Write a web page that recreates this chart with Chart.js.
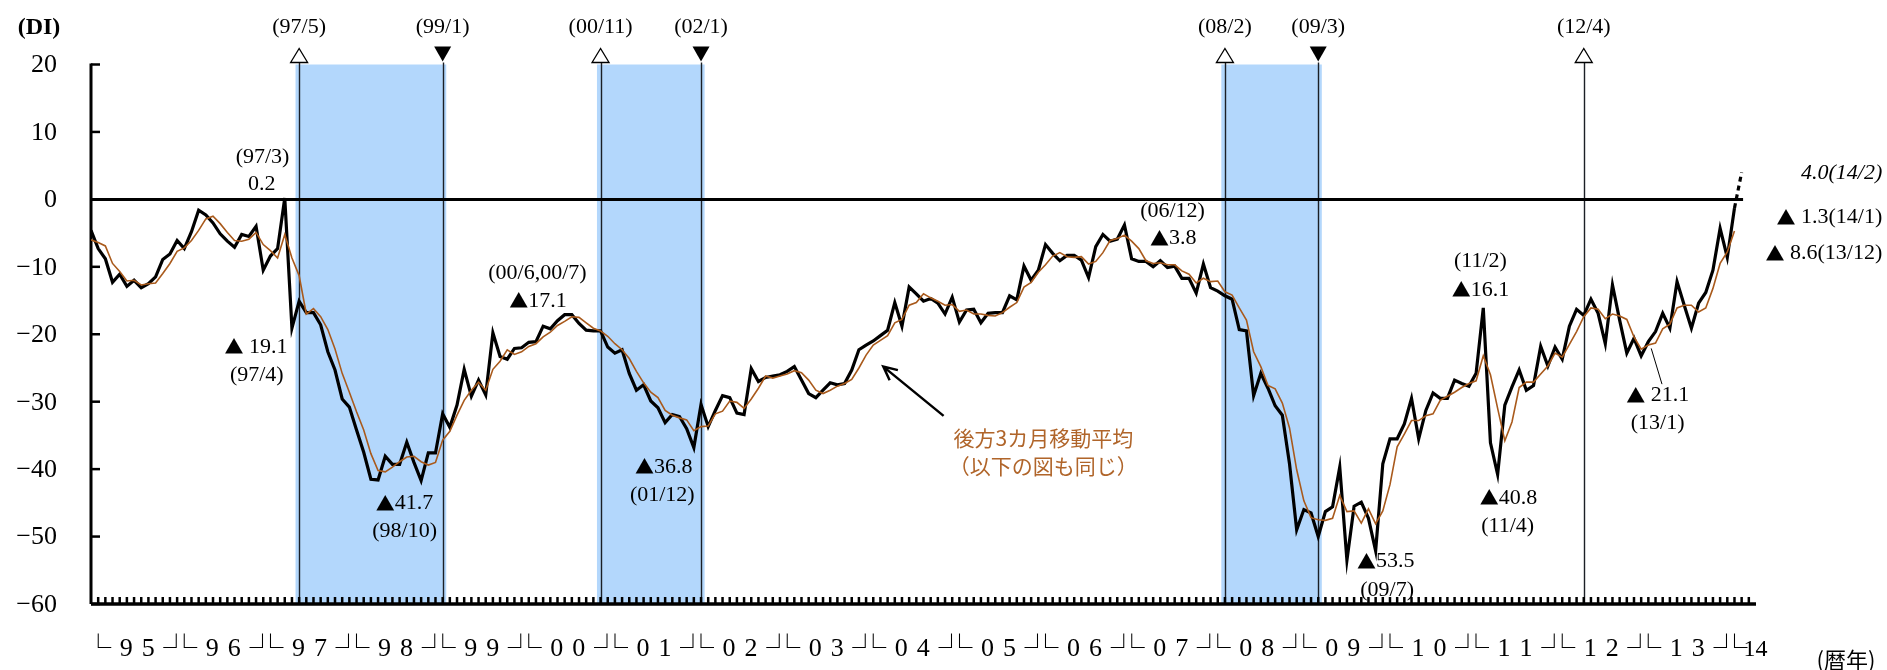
<!DOCTYPE html>
<html lang="ja">
<head>
<meta charset="utf-8">
<title>DI</title>
<script src="https://cdn.jsdelivr.net/npm/chart.js@4.4.1/dist/chart.umd.min.js"></script>
<style>
  html, body { margin: 0; padding: 0; background: #fff; }
  #wrap { width: 1887px; height: 670px; }
</style>
</head>
<body>
<div id="wrap"><canvas id="diChart" width="1887" height="670"></canvas></div>
<script>
// monthly DI, from 94/12 to 14/2 (last month is the dashed segment)
const firstMonth = '94/12';
const diValues = [
  -4.6,
  -7.3, -8.8, -12.3, -11.1, -12.9, -12.0, -13.1, -12.5, -11.5, -8.9, -8.1, -6.1,
  -7.3, -4.8, -1.6, -2.3, -3.5, -5.1, -6.2, -7.1, -5.2, -5.5, -4.0, -10.5,
  -8.4, -7.3, 0.2, -19.1, -15.1, -16.8, -16.8, -18.6, -22.6, -25.3, -29.6, -30.8,
  -34.2, -37.5, -41.5, -41.6, -38.1, -39.3, -39.3, -36.0, -39.0, -41.7, -37.6, -37.6,
  -31.8, -33.8, -30.5, -25.2, -29.2, -26.8, -29.0, -19.8, -23.3, -23.7, -22.1, -22.0,
  -21.2, -21.1, -18.8, -19.2, -18.0, -17.1, -17.1, -18.4, -19.4, -19.5, -19.5, -21.9,
  -22.8, -22.3, -25.8, -28.3, -27.5, -29.9, -30.9, -33.1, -31.9, -32.2, -34.0, -36.8,
  -30.4, -33.7, -31.3, -29.1, -29.4, -31.7, -31.9, -25.1, -27.0, -26.4, -26.2, -26.0,
  -25.5, -24.8, -26.8, -28.8, -29.4, -28.3, -27.2, -27.5, -27.3, -25.3, -22.3, -21.6,
  -21.0, -20.2, -19.4, -15.3, -18.8, -13.0, -14.0, -15.1, -14.7, -15.4, -17.0, -14.5,
  -18.2, -16.4, -16.3, -18.3, -16.9, -16.8, -16.8, -14.3, -14.9, -9.9, -12.0, -10.5,
  -6.7, -8.0, -9.1, -8.3, -8.3, -9.0, -11.6, -7.0, -5.2, -6.2, -5.9, -3.8,
  -8.8, -9.2, -9.2, -10.0, -9.1, -10.1, -9.9, -11.7, -11.7, -13.9, -9.6, -13.1,
  -13.6, -14.3, -14.8, -19.3, -19.5, -29.1, -25.8, -28.0, -30.6, -32.0, -39.2, -49.0,
  -46.0, -46.5, -50.0, -46.3, -45.6, -39.7, -53.5, -45.5, -44.9, -47.3, -52.1, -39.2,
  -35.5, -35.5, -33.3, -29.5, -35.5, -31.3, -28.7, -29.5, -29.5, -26.8, -27.3, -27.7,
  -25.8, -16.1, -36.1, -40.8, -30.5, -27.8, -25.3, -28.3, -27.6, -21.8, -24.7, -21.9,
  -23.7, -18.8, -16.3, -17.2, -14.8, -16.9, -21.4, -12.7, -17.9, -22.8, -20.6, -23.2,
  -21.1, -19.6, -16.9, -19.1, -12.2, -15.7, -19.1, -15.4, -13.8, -10.5, -4.3, -8.6,
  -1.3, 4.0
];

// 後方3カ月移動平均 (94/12 to 14/1)
const maValues = [
  -6.0,
  -6.4, -6.9, -9.5, -10.7, -12.1, -12.0, -12.7, -12.5, -12.4, -11.0, -9.5, -7.7,
  -7.2, -6.1, -4.6, -2.9, -2.5, -3.6, -4.9, -6.1, -6.2, -5.9, -4.9, -6.7,
  -7.6, -8.7, -5.2, -8.7, -11.3, -17.0, -16.2, -17.4, -19.3, -22.2, -25.8, -28.6,
  -31.5, -34.2, -37.7, -40.2, -40.4, -39.7, -38.9, -38.2, -38.1, -38.9, -39.4, -39.0,
  -35.7, -34.4, -32.0, -29.8, -28.3, -27.1, -28.3, -25.2, -24.0, -22.3, -23.0, -22.6,
  -21.8, -21.4, -20.4, -19.7, -18.7, -18.1, -17.4, -17.5, -18.3, -19.1, -19.5, -20.3,
  -21.4, -22.3, -23.6, -25.5, -27.2, -28.6, -29.4, -31.3, -32.0, -32.4, -32.7, -34.3,
  -33.7, -33.6, -31.8, -31.4, -29.9, -30.1, -31.0, -29.6, -28.0, -26.2, -26.5, -26.2,
  -25.9, -25.4, -25.7, -26.8, -28.3, -28.8, -28.3, -27.7, -27.3, -26.7, -25.0, -23.1,
  -21.6, -20.9, -20.2, -18.3, -17.8, -15.7, -15.3, -14.0, -14.6, -15.1, -15.7, -15.6,
  -16.6, -16.4, -17.0, -17.0, -17.2, -17.3, -16.8, -16.0, -15.3, -13.0, -12.3, -10.8,
  -9.7, -8.4, -7.9, -8.5, -8.6, -8.5, -9.6, -9.2, -7.9, -6.1, -5.8, -5.3,
  -6.2, -7.3, -9.1, -9.5, -9.4, -9.7, -9.7, -10.6, -11.1, -12.4, -11.7, -12.2,
  -12.1, -13.7, -14.2, -16.1, -17.9, -22.6, -24.8, -27.6, -28.1, -30.2, -33.9, -40.1,
  -44.7, -47.2, -47.5, -47.6, -47.3, -43.9, -46.3, -46.2, -48.0, -45.9, -48.1, -46.2,
  -42.3, -36.7, -34.8, -32.8, -32.8, -32.1, -31.8, -29.8, -29.2, -28.6, -27.9, -27.3,
  -26.9, -23.2, -26.0, -31.0, -35.8, -33.0, -27.9, -27.1, -27.1, -25.9, -24.7, -22.8,
  -23.4, -21.5, -19.6, -17.4, -16.1, -16.3, -17.7, -17.0, -17.3, -17.8, -20.4, -22.2,
  -21.6, -21.3, -19.2, -18.5, -16.1, -15.7, -15.7, -16.7, -16.1, -13.2, -9.5, -7.8,
  -4.7
];

const yearLabels = ['95', '96', '97', '98', '99', '00', '01', '02', '03', '04',
  '05', '06', '07', '08', '09', '10', '11', '12', '13', '14'];
const yTickValues = [20, 10, 0, -10, -20, -30, -40, -50, -60];

// 景気の山 (△) と谷 (▼)
const peakDates = ['97/5', '00/11', '08/2', '12/4'];
const troughDates = ['99/1', '02/1', '09/3'];

// text notes, x = month index from 95/1, y = DI value
const notes = [
  { text: '(97/3)', x: 22.9, y: 6.2 },
  { text: '0.2', x: 22.8, y: 2.2 },
  { text: '▲ 19.1', x: 22.0, y: -21.9 },
  { text: '(97/4)', x: 22.1, y: -26.1 },
  { text: '▲41.7', x: 42.7, y: -45.1 },
  { text: '(98/10)', x: 42.7, y: -49.2 },
  { text: '(00/6,00/7)', x: 61.2, y: -11.0 },
  { text: '▲17.1', x: 61.3, y: -15.1 },
  { text: '▲36.8', x: 78.8, y: -39.7 },
  { text: '(01/12)', x: 78.6, y: -43.9 },
  { text: '(06/12)', x: 149.7, y: -1.7 },
  { text: '▲3.8', x: 149.8, y: -5.8 },
  { text: '▲53.5', x: 179.4, y: -53.7 },
  { text: '(09/7)', x: 179.6, y: -57.9 },
  { text: '(11/2)', x: 192.6, y: -9.1 },
  { text: '▲16.1', x: 192.6, y: -13.4 },
  { text: '▲40.8', x: 196.5, y: -44.3 },
  { text: '(11/4)', x: 196.4, y: -48.5 },
  { text: '▲ 21.1', x: 217.3, y: -29.1 },
  { text: '(13/1)', x: 217.3, y: -33.2 },
  { text: '4.0(14/2)', x: 248.6, y: 3.9, align: 'right', italic: true },
  { text: '▲ 1.3(14/1)', x: 248.6, y: -2.7, align: 'right' },
  { text: '▲ 8.6(13/12)', x: 248.6, y: -8.0, align: 'right' }
];
const maNotes = [
  { text: '後方3カ月移動平均', x: 131.7, y: -35.4 },
  { text: '（以下の図も同じ）', x: 131.7, y: -39.5 }
];
const arrowLine = { from: [117.8, -32.1], to: [109.4, -24.8] };
const leaderLine = { from: [216.4, -22.1], to: [217.9, -27.4] };

const SERIF = '"Liberation Serif", "DejaVu Serif", serif';
const JP = '"Noto Sans CJK JP", sans-serif';
const MA_COLOR = '#a95a1c';

function monthIndex(s) {
  const [yy, m] = s.split('/').map(Number);
  return ((yy < 50 ? 2000 + yy : 1900 + yy) - 1995) * 12 + (m - 1);
}

const start = monthIndex(firstMonth);
const lastDi = diValues.length - 1;

function fmt(v) {
  return v < 0 ? '\u2212' + Math.abs(v) : String(v);
}

// ▲ is drawn in the CJK font so it comes out as large as in the source
function drawNote(ctx, n, x, y) {
  const serifFont = (n.italic ? 'italic ' : '') + '22px ' + SERIF;
  let mark = '', rest = n.text;
  if (rest.startsWith('▲')) { mark = '▲'; rest = rest.slice(1); }
  ctx.font = '19px ' + JP;
  const w1 = mark ? ctx.measureText(mark).width : 0;
  ctx.font = serifFont;
  const w2 = ctx.measureText(rest).width;
  const total = w1 + w2;
  let left = x - total / 2;
  if (n.align === 'right') left = x - total;
  ctx.textAlign = 'left';
  if (mark) {
    ctx.font = '19px ' + JP;
    ctx.fillText(mark, left, y);
  }
  ctx.font = serifFont;
  ctx.fillText(rest, left + w1, y);
}

// bands, turning point lines, zero line, axes
const backdrop = {
  id: 'backdrop',
  beforeDatasetsDraw(chart) {
    const { ctx, chartArea: a, scales: { x, y } } = chart;
    ctx.save();

    ctx.fillStyle = '#b3d7fc';
    peakDates.forEach((p, k) => {
      if (!troughDates[k]) return;
      const l = x.getPixelForValue(monthIndex(p) - 0.5);
      const r = x.getPixelForValue(monthIndex(troughDates[k]) + 0.5);
      ctx.fillRect(l, a.top, r - l, a.bottom - a.top);
    });

    ctx.strokeStyle = '#1b1f26';
    ctx.lineWidth = 1.4;
    peakDates.concat(troughDates).forEach(d => {
      const px = Math.round(x.getPixelForValue(monthIndex(d))) + 0.5;
      ctx.beginPath();
      ctx.moveTo(px, a.top - 2);
      ctx.lineTo(px, a.bottom);
      ctx.stroke();
    });

    // zero line
    const y0 = y.getPixelForValue(0);
    ctx.strokeStyle = '#000';
    ctx.lineWidth = 3;
    ctx.beginPath();
    ctx.moveTo(a.left, y0);
    ctx.lineTo(x.getPixelForValue(229.2), y0);
    ctx.stroke();

    // y axis with inner ticks
    ctx.lineWidth = 3;
    ctx.beginPath();
    ctx.moveTo(a.left, a.top - 1);
    ctx.lineTo(a.left, a.bottom);
    ctx.stroke();
    ctx.lineWidth = 2.5;
    yTickValues.forEach(v => {
      const py = y.getPixelForValue(v);
      ctx.beginPath();
      ctx.moveTo(a.left, py);
      ctx.lineTo(a.left + 9, py);
      ctx.stroke();
    });

    // x axis with monthly ticks
    ctx.lineWidth = 3.5;
    ctx.beginPath();
    ctx.moveTo(a.left, a.bottom);
    ctx.lineTo(a.right, a.bottom);
    ctx.stroke();
    ctx.lineWidth = 2.5;
    for (let i = 0; i <= 230; i++) {
      const px = x.getPixelForValue(i);
      ctx.beginPath();
      ctx.moveTo(px, a.bottom);
      ctx.lineTo(px, a.bottom - 7);
      ctx.stroke();
    }
    ctx.restore();
  },

  afterDatasetsDraw(chart) {
    const { ctx, chartArea: a, scales: { x, y } } = chart;
    const px = v => x.getPixelForValue(v);
    const py = v => y.getPixelForValue(v);
    ctx.save();
    ctx.fillStyle = '#000';
    ctx.strokeStyle = '#000';

    // y tick labels
    ctx.font = '26px ' + SERIF;
    ctx.textAlign = 'right';
    ctx.textBaseline = 'middle';
    yTickValues.forEach(v => ctx.fillText(fmt(v), a.left - 34, py(v) + 1));

    // unit
    ctx.font = 'bold 24px ' + SERIF;
    ctx.textAlign = 'center';
    ctx.fillText('(DI)', a.left - 52, a.top - 37);

    // year labels
    ctx.textBaseline = 'alphabetic';
    yearLabels.forEach((lab, k) => {
      const left = px(12 * k);
      ctx.font = '26px ' + JP;
      ctx.textAlign = 'center';
      ctx.fillText('└', left, 657);
      if (k < yearLabels.length - 1) {
        ctx.fillText('┘', px(12 * k + 12) - 8, 657);
        ctx.font = '26px ' + SERIF;
        ctx.fillText(lab[0], left + 28, 656);
        ctx.fillText(lab[1], left + 50, 656);
      } else {
        ctx.font = '24px ' + SERIF;
        ctx.textAlign = 'left';
        ctx.fillText(lab, left + 9, 656);
      }
    });
    ctx.font = '22px ' + JP;
    ctx.textAlign = 'center';
    ctx.textBaseline = 'middle';
    ctx.fillText('(暦年)', 1846, 660);

    // turning point markers
    ctx.lineWidth = 1.3;
    peakDates.forEach(d => {
      const cx = px(monthIndex(d));
      ctx.beginPath();
      ctx.moveTo(cx, a.top - 16);
      ctx.lineTo(cx - 8.5, a.top - 2);
      ctx.lineTo(cx + 8.5, a.top - 2);
      ctx.closePath();
      ctx.fillStyle = '#fff';
      ctx.fill();
      ctx.stroke();
    });
    ctx.fillStyle = '#000';
    troughDates.forEach(d => {
      const cx = px(monthIndex(d));
      ctx.beginPath();
      ctx.moveTo(cx - 8.5, a.top - 18);
      ctx.lineTo(cx + 8.5, a.top - 18);
      ctx.lineTo(cx, a.top - 3);
      ctx.closePath();
      ctx.fill();
    });
    ctx.font = '22px ' + SERIF;
    peakDates.concat(troughDates).forEach(d => {
      ctx.fillText('(' + d + ')', px(monthIndex(d)), a.top - 37);
    });

    // notes
    notes.forEach(n => drawNote(ctx, n, px(n.x), py(n.y)));

    ctx.font = '21px ' + JP;
    ctx.textAlign = 'center';
    ctx.fillStyle = '#b0652a';
    maNotes.forEach(n => ctx.fillText(n.text, px(n.x), py(n.y)));

    // arrow to the moving average
    const t = [px(arrowLine.from[0]), py(arrowLine.from[1])];
    const h = [px(arrowLine.to[0]), py(arrowLine.to[1])];
    const ang = Math.atan2(t[1] - h[1], t[0] - h[0]);
    ctx.strokeStyle = '#000';
    ctx.lineWidth = 2.5;
    ctx.beginPath();
    ctx.moveTo(t[0], t[1]);
    ctx.lineTo(h[0], h[1]);
    ctx.moveTo(h[0] + 15 * Math.cos(ang - 0.45), h[1] + 15 * Math.sin(ang - 0.45));
    ctx.lineTo(h[0], h[1]);
    ctx.lineTo(h[0] + 15 * Math.cos(ang + 0.45), h[1] + 15 * Math.sin(ang + 0.45));
    ctx.stroke();

    ctx.lineWidth = 1;
    ctx.beginPath();
    ctx.moveTo(px(leaderLine.from[0]), py(leaderLine.from[1]));
    ctx.lineTo(px(leaderLine.to[0]), py(leaderLine.to[1]));
    ctx.stroke();

    ctx.restore();
  }
};

new Chart(document.getElementById('diChart'), {
  type: 'line',
  data: {
    datasets: [
      {
        label: '後方3カ月移動平均',
        data: maValues.map((v, k) => ({ x: start + k, y: v })),
        borderColor: MA_COLOR,
        borderWidth: 1.6,
        pointRadius: 0,
        tension: 0,
        order: 0
      },
      {
        label: 'DI',
        data: diValues.map((v, k) => ({ x: start + k, y: v })),
        borderColor: '#000',
        borderWidth: 3.2,
        pointRadius: 0,
        tension: 0,
        order: 1,
        segment: {
          borderDash: c => (c.p1DataIndex === lastDi ? [5, 4] : undefined)
        }
      }
    ]
  },
  options: {
    responsive: false,
    animation: false,
    layout: { padding: { left: 91, right: 131, top: 64.5, bottom: 66 } },
    plugins: { legend: { display: false }, tooltip: { enabled: false } },
    scales: {
      x: { type: 'linear', min: -1, max: 231, display: false },
      y: { min: -60, max: 20, display: false }
    }
  },
  plugins: [backdrop]
});
</script>
</body>
</html>
